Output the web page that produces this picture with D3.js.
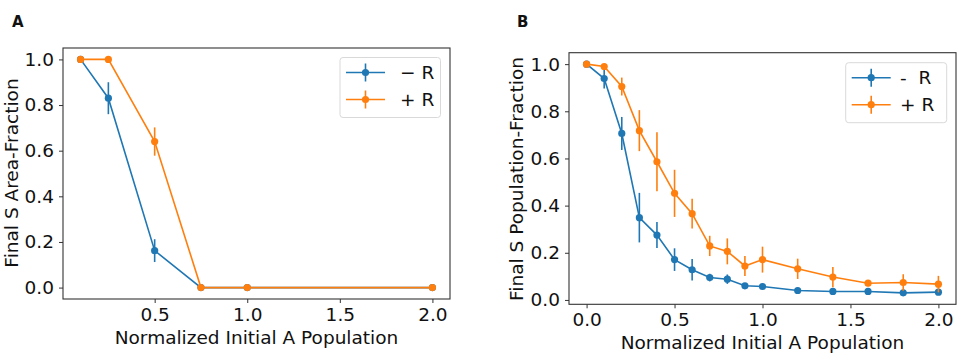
<!DOCTYPE html>
<html><head><meta charset="utf-8">
<script src="https://cdn.jsdelivr.net/npm/d3@7"></script>
<style>body{margin:0;background:#fff;} svg{display:block;} text{font-family:"DejaVu Sans",sans-serif;}</style>
</head><body>
<svg id="chart" width="957" height="356"></svg>
<script>
// Panel A data
const xA = [0.1, 0.25, 0.5, 0.75, 1.0, 2.0];
const aMinusR = [1.0, 0.83, 0.162, 0.0, 0.0, 0.0];
const aMinusErr = [0.0, 0.07, 0.05, 0.0, 0.0, 0.0];
const aPlusR = [1.0, 1.0, 0.64, 0.0, 0.0, 0.0];
const aPlusErr = [0.0, 0.0, 0.062, 0.0, 0.0, 0.0];
const xTicksA = [0.5, 1.0, 1.5, 2.0];
const yTicks = [0.0, 0.2, 0.4, 0.6, 0.8, 1.0];

// Panel B data
const xB = [0, 0.1, 0.2, 0.3, 0.4, 0.5, 0.6, 0.7, 0.8, 0.9, 1.0, 1.2, 1.4, 1.6, 1.8, 2.0];
const bMinusR = [1.0, 0.939, 0.706, 0.349, 0.275, 0.171, 0.128, 0.095, 0.088, 0.060, 0.057, 0.040, 0.036, 0.036, 0.030, 0.033];
const bMinusErr = [0.0, 0.042, 0.07, 0.105, 0.055, 0.048, 0.046, 0.016, 0.02, 0.006, 0.005, 0.005, 0.004, 0.004, 0.004, 0.004];
const bPlusR = [1.0, 0.990, 0.905, 0.718, 0.586, 0.452, 0.366, 0.229, 0.206, 0.144, 0.171, 0.132, 0.097, 0.071, 0.074, 0.067];
const bPlusErr = [0.0, 0.005, 0.038, 0.087, 0.125, 0.1, 0.063, 0.043, 0.055, 0.042, 0.055, 0.043, 0.043, 0.013, 0.035, 0.035];
const xTicksB = [0.0, 0.5, 1.0, 1.5, 2.0];

const blue = "#1f77b4", orange = "#ff7f0e";
const FS = 18.5;
const svg = d3.select("#chart");

function panel(cfg) {
  const g = svg.append("g");
  const x = d3.scaleLinear().domain(cfg.xDom).range([cfg.left, cfg.right]);
  const y = d3.scaleLinear().domain(cfg.yDom).range([cfg.bottom, cfg.top]);

  const xa = g.append("g").attr("transform", `translate(0,${cfg.bottom})`)
    .call(d3.axisBottom(x).tickValues(cfg.xTicks).tickFormat(d3.format(".1f")).tickSize(4).tickPadding(5).tickSizeOuter(0));
  const ya = g.append("g").attr("transform", `translate(${cfg.left},0)`)
    .call(d3.axisLeft(y).tickValues(yTicks).tickFormat(d3.format(".1f")).tickSize(4).tickPadding(5).tickSizeOuter(0));
  [xa, ya].forEach(a => {
    a.select(".domain").remove();
    a.selectAll("line").attr("stroke", "#333").attr("stroke-width", 1);
    a.selectAll("text").attr("font-size", FS).attr("fill", "#111").attr("font-family", "DejaVu Sans");
  });

  cfg.series.forEach(s => {
    const pts = cfg.xs.map((d, i) => ({x: d, y: s.vals[i], e: s.errs[i]}));
    g.append("path").datum(pts)
      .attr("fill", "none").attr("stroke", s.color).attr("stroke-width", 1.6)
      .attr("d", d3.line().x(d => x(d.x)).y(d => y(d.y)));
    g.selectAll(null).data(pts.filter(d => d.e > 0)).enter().append("line")
      .attr("x1", d => x(d.x)).attr("x2", d => x(d.x))
      .attr("y1", d => y(d.y - d.e)).attr("y2", d => y(d.y + d.e))
      .attr("stroke", s.color).attr("stroke-width", 1.6);
    g.selectAll(null).data(pts).enter().append("circle")
      .attr("cx", d => x(d.x)).attr("cy", d => y(d.y)).attr("r", 3.6)
      .attr("fill", s.color);
  });

  g.append("rect").attr("x", cfg.left).attr("y", cfg.top)
    .attr("width", cfg.right - cfg.left).attr("height", cfg.bottom - cfg.top)
    .attr("fill", "none").attr("stroke", "#333").attr("stroke-width", 1.1);

  const L = cfg.legend;
  g.append("rect").attr("x", L.x).attr("y", L.y).attr("width", L.w).attr("height", L.h)
    .attr("rx", 3).attr("fill", "#fff").attr("fill-opacity", 0.8).attr("stroke", "#d9d9d9").attr("stroke-width", 1);
  cfg.series.forEach((s, i) => {
    const ly = L.y + 15 + i * 27;
    const lx = L.x + 6;
    g.append("line").attr("x1", lx).attr("x2", lx + 39).attr("y1", ly).attr("y2", ly)
      .attr("stroke", s.color).attr("stroke-width", 1.6);
    g.append("line").attr("x1", lx + 19.5).attr("x2", lx + 19.5).attr("y1", ly - 9).attr("y2", ly + 9)
      .attr("stroke", s.color).attr("stroke-width", 1.6);
    g.append("circle").attr("cx", lx + 19.5).attr("cy", ly).attr("r", 3.6).attr("fill", s.color);
    g.append("text").attr("x", L.tx).attr("y", ly + 6.5).attr("font-size", FS).attr("fill", "#111")
      .style("white-space", "pre").attr("xml:space", "preserve").text(s.label);
  });

  g.append("text").attr("x", (cfg.left + cfg.right) / 2 + cfg.xlabDx).attr("y", cfg.xlabY)
    .attr("text-anchor", "middle").attr("font-size", FS).attr("fill", "#111").text("Normalized Initial A Population");
  g.append("text").attr("transform", `translate(${cfg.ylabX},${cfg.ylabY}) rotate(-90)`)
    .attr("text-anchor", "middle").attr("font-size", FS).attr("fill", "#111").text(cfg.ylab);
  g.append("text").attr("x", cfg.tagX).attr("y", cfg.tagY).attr("font-size", 15).attr("font-weight", "bold")
    .attr("fill", "#111").text(cfg.tag);
}

panel({
  xDom: [0.005, 2.095], yDom: [-0.05, 1.05],
  left: 63, right: 450, top: 48, bottom: 299,
  xTicks: xTicksA, xs: xA,
  series: [
    {vals: aMinusR, errs: aMinusErr, color: blue, label: "\u2212 R"},
    {vals: aPlusR, errs: aPlusErr, color: orange, label: "+ R"}
  ],
  legend: {x: 340, y: 57.5, w: 100.5, h: 60, tx: 400},
  xlabY: 344, xlabDx: 0, ylab: "Final S Area-Fraction", ylabX: 18, ylabY: 173,
  tag: "A", tagX: 12, tagY: 27
});

panel({
  xDom: [-0.1, 2.1], yDom: [-0.0185, 1.0485],
  left: 569, right: 956, top: 52.7, bottom: 304.3,
  xTicks: xTicksB, xs: xB,
  series: [
    {vals: bMinusR, errs: bMinusErr, color: blue, label: "-  R"},
    {vals: bPlusR, errs: bPlusErr, color: orange, label: "+ R"}
  ],
  legend: {x: 845.7, y: 62.7, w: 101, h: 60, tx: 900},
  xlabY: 349, xlabDx: 0, ylab: "Final S Population-Fraction", ylabX: 523, ylabY: 179,
  tag: "B", tagX: 517, tagY: 27
});
</script>
</body></html>
